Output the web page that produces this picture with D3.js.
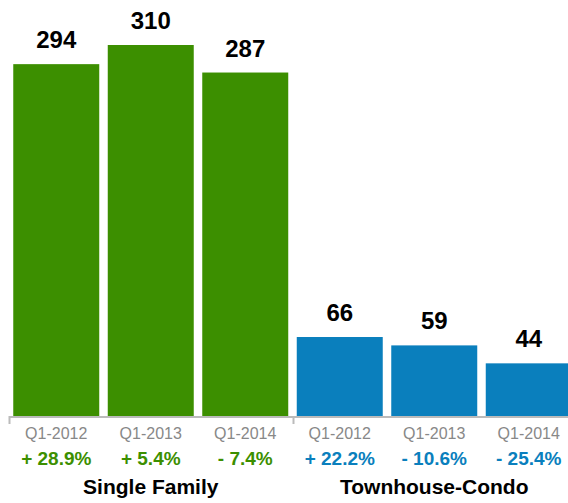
<!DOCTYPE html>
<html>
<head>
<meta charset="utf-8">
<script src="https://cdn.jsdelivr.net/npm/d3@7"></script>
<style>
    body { margin: 0; background: #fff; }
    svg { display: block; font-family: "Liberation Sans", Arial, Helvetica, sans-serif; }
</style>
</head>
<body>
<div id="chart"></div>
<script>
// chart data
const quarters = ['Q1-2012', 'Q1-2013', 'Q1-2014', 'Q1-2012', 'Q1-2013', 'Q1-2014'];
const sales = [294, 310, 287, 66, 59, 44];
const changes = ['+ 28.9%', '+ 5.4%', '- 7.4%', '+ 22.2%', '- 10.6%', '- 25.4%'];
const seriesOf = [0, 0, 0, 1, 1, 1];
const groups = ['Single Family', 'Townhouse-Condo'];
const groupColors = ['#3c8f00', '#0a7fbd'];

const width = 568;
const height = 503;
const baseline = 416;

const svg = d3.select('#chart')
    .append('svg')
    .attr('width', width)
    .attr('height', height);

const x = d3.scaleBand()
    .domain(d3.range(sales.length))
    .range([9, 576])
    .paddingInner(0.09)
    .paddingOuter(0.045);

const y = d3.scaleLinear()
    .domain([0, 310])
    .range([baseline, 45]);

// bars
svg.selectAll('.bar')
    .data(sales)
    .enter()
    .append('rect')
    .attr('class', 'bar')
    .attr('x', (d, i) => x(i))
    .attr('y', d => y(d))
    .attr('width', x.bandwidth())
    .attr('height', d => baseline - y(d))
    .attr('fill', (d, i) => groupColors[seriesOf[i]]);

// value labels
svg.selectAll('.value')
    .data(sales)
    .enter()
    .append('text')
    .attr('class', 'value')
    .attr('x', (d, i) => x(i) + x.bandwidth() / 2)
    .attr('y', d => y(d) - 16)
    .attr('text-anchor', 'middle')
    .attr('font-size', 24)
    .attr('font-weight', 'bold')
    .attr('fill', '#000')
    .text(d => d);

// axis line + group ticks
svg.append('line')
    .attr('x1', 9).attr('x2', width)
    .attr('y1', baseline + 1).attr('y2', baseline + 1)
    .attr('stroke', '#bbb')
    .attr('stroke-width', 2);

const step = x.step();
[0, 3, 6].forEach(i => {
    const tx = Math.round(9 + i * step) + 0.5;
    svg.append('line')
        .attr('x1', tx).attr('x2', tx)
        .attr('y1', baseline).attr('y2', baseline + 8)
        .attr('stroke', '#bbb')
        .attr('stroke-width', 2);
});

// quarter labels
svg.selectAll('.quarter')
    .data(quarters)
    .enter()
    .append('text')
    .attr('class', 'quarter')
    .attr('x', (d, i) => x(i) + x.bandwidth() / 2)
    .attr('y', 439)
    .attr('text-anchor', 'middle')
    .attr('font-size', 16)
    .attr('fill', '#888')
    .text(d => d);

// percent change labels
svg.selectAll('.change')
    .data(changes)
    .enter()
    .append('text')
    .attr('class', 'change')
    .attr('x', (d, i) => x(i) + x.bandwidth() / 2)
    .attr('y', 465)
    .attr('text-anchor', 'middle')
    .attr('font-size', 19)
    .attr('font-weight', 'bold')
    .attr('fill', (d, i) => groupColors[seriesOf[i]])
    .text(d => d);

// group labels
groups.forEach((g, gi) => {
    const idx = d3.range(sales.length).filter(i => seriesOf[i] === gi);
    const x0 = x(idx[0]);
    const x1 = x(idx[idx.length - 1]) + x.bandwidth();
    svg.append('text')
        .attr('x', (x0 + x1) / 2)
        .attr('y', 494)
        .attr('text-anchor', 'middle')
        .attr('font-size', 21)
        .attr('font-weight', 'bold')
        .attr('fill', '#000')
        .text(g);
});
</script>
</body>
</html>
